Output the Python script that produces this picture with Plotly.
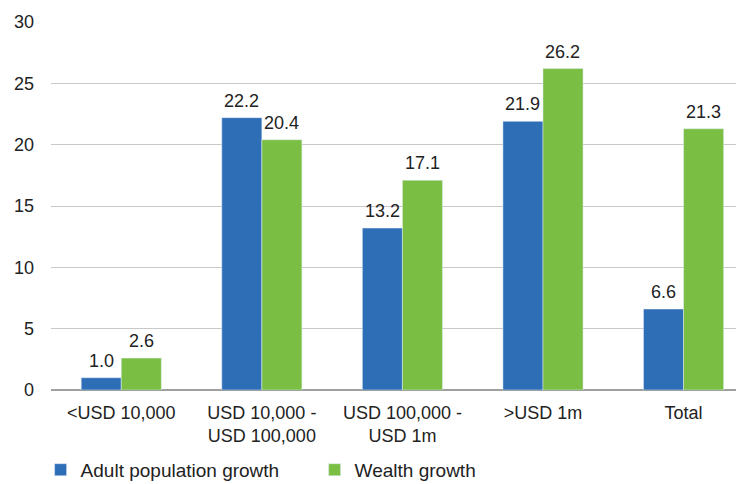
import plotly.graph_objects as go

categories = ["<USD 10,000", "USD 10,000 -<br>USD 100,000", "USD 100,000 -<br>USD 1m", ">USD 1m", "Total"]
adult_growth = [1.0, 22.2, 13.2, 21.9, 6.6]
wealth_growth = [2.6, 20.4, 17.1, 26.2, 21.3]
y_ticks = [0, 5, 10, 15, 20, 25, 30]

BLUE = "#2E6EB7"
GREEN = "#7ABF43"
FONT = "Liberation Sans, Arial, sans-serif"
BAR_HALF_PX = 20  # half a bar width, used to put labels over each bar

fig = go.Figure()
fig.add_trace(go.Bar(
    x=categories, y=adult_growth, name="Adult population growth",
    marker_color=BLUE,
))
fig.add_trace(go.Bar(
    x=categories, y=wealth_growth, name="Wealth growth",
    marker_color=GREEN,
))

# value labels above bars
for series, shift in ((adult_growth, -BAR_HALF_PX), (wealth_growth, BAR_HALF_PX)):
    for cat, val in zip(categories, series):
        fig.add_annotation(
            x=cat, y=val, text=f"{val:.1f}", showarrow=False,
            xshift=shift, yshift=5, yanchor="bottom",
            font=dict(size=18, color="#222"),
        )

fig.update_layout(
    width=736, height=476,
    margin=dict(l=43, r=0, t=14, b=94, autoexpand=False),
    paper_bgcolor="white", plot_bgcolor="white",
    font=dict(family=FONT, size=18, color="#222"),
    barmode="group", bargap=0.43, bargroupgap=0,
    showlegend=True,
    legend=dict(
        orientation="h", x=-0.015, xanchor="left", y=-0.217, yanchor="middle",
        font=dict(size=19, color="#222"), entrywidth=229, entrywidthmode="pixels",
        itemwidth=30,
    ),
    xaxis=dict(range=[-0.5, 4.43], showgrid=False, showline=False, ticks="",
               automargin=False, ticklabelstandoff=10, tickfont=dict(size=18)),
    yaxis=dict(range=[0, 30], tickvals=y_ticks, showgrid=True, gridcolor="#C8C8C8",
               gridwidth=1, zeroline=True, zerolinecolor="#A0A0A0", zerolinewidth=2,
               automargin=False, ticks="", ticklabelstandoff=16, tickfont=dict(size=18)),
)

fig.write_html("out.html")
